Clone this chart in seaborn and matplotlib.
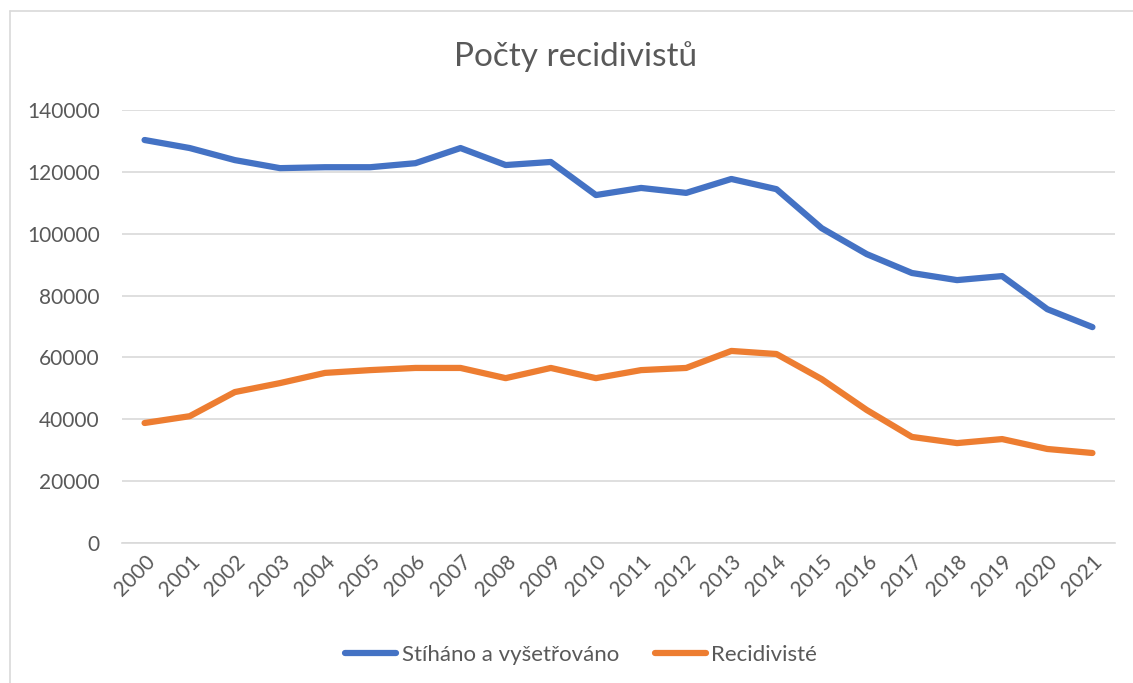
import matplotlib
matplotlib.use("Agg")
import matplotlib.pyplot as plt
from matplotlib.lines import Line2D
import seaborn as sns
import pandas as pd

years = list(range(2000, 2022))
stihano = [130300, 127700, 123800, 121200, 121500, 121500, 122800, 127700,
           122200, 123200, 112500, 114800, 113200, 117700, 114400, 101800,
           93400, 87300, 85000, 86300, 75600, 69800]
recidiviste = [38800, 41000, 48800, 51700, 55000, 55900, 56600, 56600,
               53300, 56600, 53300, 55900, 56600, 62100, 61100, 53000,
               43000, 34300, 32300, 33600, 30400, 29100]
series_names = ['Stíháno a vyšetřováno', 'Recidivisté']
colors = ['#4472C4', '#ED7D31']

df = pd.DataFrame({'rok': [str(y) for y in years] * 2,
                   'pocet': stihano + recidiviste,
                   'serie': [series_names[0]] * len(years) + [series_names[1]] * len(years)})

sns.set_style('white')
plt.rcParams['font.family'] = ['Lato', 'DejaVu Sans']

fig = plt.figure(figsize=(11.33, 6.83), dpi=100)
ax = fig.add_axes([122 / 1133, 1 - 543 / 683, (1115 - 122) / 1133, (543 - 110) / 683])

sns.lineplot(data=df, x='rok', y='pocet', hue='serie', palette=colors,
             linewidth=4.5, ax=ax, legend=False, sort=False)
for ln in ax.get_lines():
    ln.set_solid_capstyle('round')
    ln.set_solid_joinstyle('round')

ax.set_xlim(-0.5, len(years) - 0.5)
ax.set_ylim(0, 140000)
ax.set_yticks(range(0, 140001, 20000))
ax.yaxis.grid(True, color='#d9d9d9', linewidth=1.2)
ax.xaxis.grid(False)
for s in ['left', 'right', 'top']:
    ax.spines[s].set_visible(False)
ax.spines['bottom'].set_color('#d9d9d9')
ax.spines['bottom'].set_linewidth(1.2)
ax.tick_params(axis='both', length=0, colors='#595959', labelsize=15)
ax.tick_params(axis='y', pad=16)
ax.tick_params(axis='x', pad=6)
plt.setp(ax.get_xticklabels(), rotation=45, ha='right', rotation_mode='anchor')
ax.set_xlabel('')
ax.set_ylabel('')

fig.text(0.508, 1 - 57 / 683, 'Počty recidivistů', ha='center', va='center',
         fontsize=24, color='#595959')

handles = [Line2D([], [], color=c, linewidth=4.5, solid_capstyle='round') for c in colors]
fig.legend(handles, series_names, loc='center', bbox_to_anchor=(0.513, 1 - 655 / 683),
           ncol=2, frameon=False, fontsize=16, labelcolor='#595959',
           handlelength=2.3, handletextpad=0.25, columnspacing=1.6)

# light chart frame (only left and top edges visible)
fig.add_artist(Line2D([10 / 1133, 10 / 1133], [0, 1 - 11 / 683], color='#d9d9d9',
                      linewidth=1.2, transform=fig.transFigure))
fig.add_artist(Line2D([10 / 1133, 1], [1 - 11 / 683, 1 - 11 / 683], color='#d9d9d9',
                      linewidth=1.2, transform=fig.transFigure))

fig.savefig('out.png', dpi=100)
